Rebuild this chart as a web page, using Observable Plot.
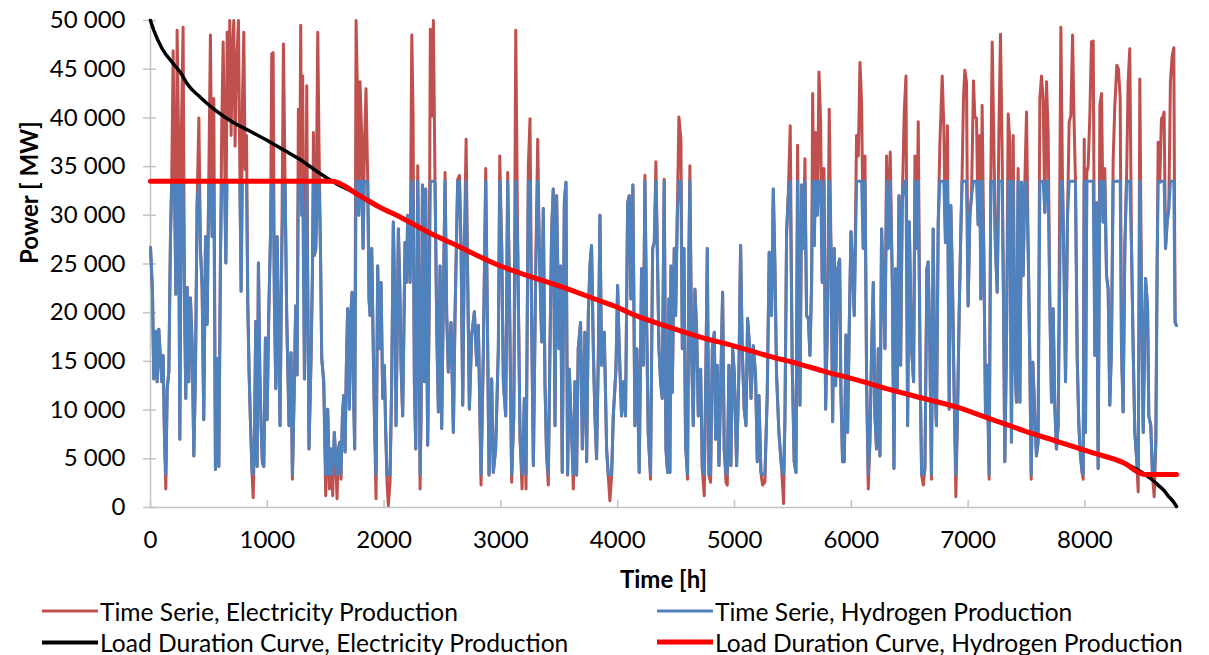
<!DOCTYPE html>
<html>
<head>
<meta charset="utf-8">
<script src="https://cdn.jsdelivr.net/npm/d3@7"></script>
<script src="https://cdn.jsdelivr.net/npm/@observablehq/plot@0.6"></script>
<style>
  body { margin: 0; background: #fff; }
  #wrap { position: relative; width: 1209px; height: 655px; overflow: hidden; font-family: Lato, sans-serif; }
  .item { position: absolute; display: flex; align-items: center; white-space: nowrap; color: #000; font-size: 24.6px; transform: translateY(-50%); }
  .swatch { width: 56px; margin-right: 2px; }
</style>
</head>
<body>
<div id="wrap"></div>
<script>
// Hourly electricity production over the year, [hour, MW], in segments
const seriesA = [[0,26700],[17,22200],[28,13200],[43,18100],[57,12900],[71,18300],[85,15300],[97,12900],[108,15600],[120,7000],[131,1900],[143,12200],[157,13900],[171,27800],[182,33700],[194,46900],[205,34100],[217,21900],[228,49000],[240,38200],[251,7000],[265,39000],[279,49300],[291,21500],[302,11200],[314,22600],[328,12900],[342,21500],[357,16600],[371,5300],[385,13900],[399,31200],[414,40000],[428,26400],[442,22600],[456,9000],[471,27800],[485,18800],[499,33700],[513,48500],[528,27800],[542,42000],[556,3900],[570,15300],[585,4200],[599,25700],[610,39000],[622,47800],[633,38200],[645,25100],[656,48800],[667,40000],[679,50000],[690,38200],[702,46900],[713,50000],[724,37100],[736,45100],[753,50000],[765,34700],[776,22200],[787,41700],[799,48800],[810,34700],[822,38200],[833,20900],[844,13900],[856,8700],[870,3500],[879,1000],[890,7000],[901,19100],[913,4200],[924,25100],[936,13900],[947,8300],[958,4600],[970,4200],[984,17400],[998,9000],[1013,20200],[1027,27800],[1038,46600],[1050,46700],[1061,20900],[1073,12200],[1084,27800],[1096,19100]];
const seriesB = [[1109,8400],[1124,26600],[1138,47600],[1152,33400],[1166,19700],[1186,8400],[1203,15900],[1215,2900],[1229,11200],[1243,20700],[1255,13600],[1266,40900],[1278,33400],[1286,49500],[1295,30000],[1303,44300],[1318,13200],[1329,26600],[1338,43300],[1346,23100],[1357,6000],[1375,15600],[1386,23800],[1395,38500],[1403,25900],[1415,26600],[1432,48800],[1443,36800],[1455,26600],[1466,15300],[1483,12900],[1500,1200],[1517,10100],[1532,1900],[1546,6000],[1560,1200],[1574,7700],[1586,5000],[1597,900],[1609,6000],[1620,6700],[1631,2900],[1643,9400],[1654,11500],[1666,5700],[1677,14600],[1688,20400],[1703,10100],[1714,19700],[1726,22100],[1737,12900],[1748,6000],[1760,50000],[1771,43000],[1783,30000],[1794,43700],[1808,38200],[1820,26600],[1831,36800],[1845,43000],[1860,33400],[1871,21400],[1880,19700],[1894,26600],[1905,18000],[1917,9400],[1931,900],[1945,24800],[1959,16300],[1974,23100],[1988,11200],[2002,14600],[2014,7700],[2025,2600],[2036,200],[2051,2600],[2065,12900],[2079,29300],[2094,19700],[2102,8400],[2114,19700],[2122,28600],[2134,23100],[2145,14600],[2159,9400],[2171,19700],[2179,27200],[2191,23100],[2202,30000]];
const seriesC = [[2222,23100],[2237,48500],[2248,40200],[2259,12900],[2271,6000],[2288,35100],[2299,19700],[2308,1900],[2316,9400],[2328,33100],[2345,12900],[2356,32700],[2373,6400],[2385,19700],[2396,49100],[2408,40200],[2422,50000],[2436,33400],[2451,18000],[2465,9800],[2479,24800],[2493,8100],[2508,22100],[2522,34400],[2536,19700],[2550,13900],[2573,19000],[2593,7700],[2607,19700],[2630,33700],[2645,34100],[2659,26600],[2673,10500],[2687,26600],[2702,37800],[2716,23100],[2730,10100],[2750,17700],[2773,20100],[2793,14600],[2807,18700],[2830,2300],[2850,16300],[2870,34800],[2884,19700],[2898,3300],[2921,13200],[2935,3600],[2955,6000],[2978,16300],[2990,36100],[3007,26600],[3021,12900],[3041,9400],[3058,34400],[3072,23100],[3092,2600],[3110,9400],[3127,49000],[3144,26600],[3164,7000],[3181,1900],[3201,11200],[3215,1900],[3235,35100],[3249,39900],[3264,18000],[3278,4300],[3298,24500],[3315,37800],[3329,26600]];
const seriesD = [[3349,17000],[3363,30700],[3377,12900],[3391,5300],[3406,2300],[3420,16300],[3434,28300],[3448,32700],[3463,8400],[3477,32000],[3497,16300],[3511,24800],[3525,3600],[3543,31300],[3557,33400],[3571,3300],[3585,14200],[3605,7700],[3620,1900],[3634,12900],[3648,3300],[3662,16300],[3682,19000],[3697,6000],[3719,18000],[3734,4700],[3748,19700],[3762,24800],[3776,26900],[3791,16300],[3805,9400],[3819,5000],[3834,15600],[3848,30000],[3862,14600],[3885,18000],[3905,6000],[3919,3300],[3933,700],[3948,3300],[3962,9400],[3985,14200],[3999,22800],[4013,16300],[4033,9400],[4050,12900],[4067,9400],[4085,31300],[4099,32000],[4113,21400],[4130,33100],[4147,8400],[4164,16300],[4184,3600],[4204,24500],[4219,14600],[4233,34100],[4247,19700],[4261,7700],[4281,2900],[4299,26600],[4313,27200],[4327,35500],[4339,26600],[4353,16300],[4367,12900],[4381,11200],[4398,33700],[4413,6000],[4427,3600],[4438,21400]];
const seriesE = [[4447,3600],[4456,24800],[4467,11800],[4484,26600],[4496,19700],[4510,30000],[4524,40100],[4541,37800],[4553,16300],[4567,26600],[4581,6400],[4598,2900],[4610,26600],[4618,35100],[4633,15600],[4647,8400],[4661,22400],[4676,18000],[4690,9400],[4710,14200],[4724,4000],[4741,1200],[4755,14200],[4767,26600],[4781,3300],[4795,2600],[4810,16300],[4827,18000],[4838,7000],[4852,14600],[4867,4300],[4884,13900],[4898,22100],[4912,6000],[4927,2600],[4938,2300],[4952,14600],[4969,4300],[4984,16300],[4998,13900],[5018,4300],[5038,14200],[5052,26900],[5066,16300],[5083,10100],[5098,8400],[5112,19400],[5126,17000],[5141,11200],[5161,16600],[5180,13600],[5195,4700],[5209,11500],[5226,3600],[5240,2300],[5260,2600],[5280,11500],[5297,26200],[5317,19700],[5332,32700],[5346,24800],[5360,13600],[5380,7700],[5403,4000],[5420,400],[5432,9400],[5446,28300],[5460,32000],[5477,39200],[5494,14600],[5511,4700],[5526,3600],[5540,37200]];
const seriesF = [[5560,10500],[5575,33100],[5589,26600],[5603,35800],[5617,19700],[5632,19400],[5646,15600],[5660,23100],[5669,42500],[5683,26900],[5694,38500],[5709,30000],[5723,44700],[5737,39600],[5751,23100],[5766,34800],[5780,10100],[5797,19700],[5811,40900],[5826,26600],[5840,8800],[5854,26600],[5866,12500],[5883,24500],[5900,25500],[5911,11800],[5925,4700],[5940,4700],[5954,17700],[5968,7700],[5983,19000],[5997,28300],[6011,24500],[6025,19700],[6045,38200],[6060,36100],[6074,45700],[6088,41600],[6102,26600],[6117,36100],[6131,12900],[6145,1900],[6159,6700],[6174,16300],[6188,23100],[6202,9400],[6216,6000],[6231,16300],[6245,5300],[6259,28600],[6276,21800],[6288,16300],[6302,36100],[6316,26600],[6333,36500],[6351,23100],[6365,4000],[6379,24500],[6393,12200],[6408,32000],[6422,14600],[6436,31300],[6453,40600],[6468,44300],[6482,8400],[6496,29300],[6516,16300],[6533,12900],[6545,36100],[6559,26600],[6573,39600],[6590,12900],[6602,3300],[6616,2300],[6630,4000],[6647,24500]];
const seriesG = [[6658,25200],[6672,16600],[6686,2900],[6701,28600],[6715,12900],[6729,8400],[6744,29300],[6758,37200],[6778,44300],[6792,39200],[6806,27200],[6823,39200],[6838,10100],[6852,31000],[6866,23100],[6881,11200],[6895,1100],[6909,9400],[6923,19700],[6938,28600],[6949,34400],[6960,42000],[6972,44900],[6986,43700],[7000,20700],[7015,30000],[7029,32000],[7046,43800],[7057,40200],[7072,39900],[7086,29000],[7100,38200],[7109,21400],[7120,41300],[7134,26600],[7149,9400],[7163,14600],[7180,2900],[7194,33400],[7206,47800],[7220,37800],[7234,26600],[7249,22100],[7263,38200],[7277,48600],[7291,36800],[7303,21100],[7314,4700],[7328,16300],[7343,40400],[7357,37500],[7371,6700],[7386,38200],[7400,14900],[7414,10800],[7428,34800],[7443,10800],[7457,33400],[7471,23800],[7485,33100],[7500,40600],[7514,26600],[7528,15300],[7540,2900],[7554,14900],[7571,9400],[7585,5300],[7599,6700],[7614,42000],[7628,44300],[7642,42000],[7657,30300],[7671,43700],[7685,38500],[7699,21400],[7714,10800],[7728,20400],[7742,10500],[7756,6000]];
const seriesH = [[7771,8400],[7794,49300],[7808,33400],[7822,23800],[7834,12900],[7851,30000],[7865,39600],[7879,40200],[7894,48500],[7908,39200],[7919,33400],[7934,15300],[7948,8400],[7962,5300],[7976,3600],[7985,2900],[7994,37800],[8005,7700],[8016,34400],[8028,35100],[8042,40200],[8056,47800],[8071,47900],[8085,15600],[8099,31300],[8113,4000],[8128,41300],[8142,42500],[8156,29300],[8170,34800],[8185,23800],[8199,22400],[8213,10500],[8227,16300],[8242,35800],[8256,41300],[8273,45400],[8287,45000],[8302,42000],[8313,16300],[8327,9800],[8342,26900],[8356,33400],[8370,43700],[8384,47100],[8399,26600],[8413,16300],[8427,7700],[8441,5300],[8456,1600],[8470,44000],[8484,22400],[8499,7700],[8519,23500],[8536,20700],[8547,9400],[8564,8400],[8578,3300],[8593,1100],[8607,6700],[8618,24500],[8627,37500],[8641,33400],[8655,39900],[8670,40200],[8678,40600],[8690,26600],[8704,29300],[8718,30700],[8732,43700],[8747,46400],[8761,47200],[8772,19000],[8783,18700]];

// Electricity load duration curve (sorted production)
const ldcHours = [0, 28, 100, 200, 265, 314, 428, 554, 713, 841, 998, 1141, 1284, 1426, 1555, 1780, 1951, 2140, 2422, 2568, 2995, 3280, 3509, 3851, 3988, 4136, 4421, 4707, 4992, 5277, 5563, 5762, 6047, 6333, 6618, 6903, 7189, 7474, 7759, 8044, 8330, 8512, 8570, 8627, 8680, 8712, 8750, 8784];
const ldcElec = [50000, 49000, 47100, 45500, 44500, 43500, 42100, 40800, 39500, 38700, 37700, 36700, 35700, 34500, 33500, 32100, 30900, 29800, 28000, 27200, 24800, 23600, 22700, 21200, 20600, 19800, 18600, 17500, 16600, 15600, 14700, 14000, 13100, 12100, 11200, 10300, 9100, 7900, 6800, 5700, 4600, 3400, 2900, 2300, 1700, 1200, 700, 100];

// Electrolyser limits: hydrogen production is the electricity bounded by these
const hydrogenMax = 33500;
const hydrogenMin = 3400;

const xTicks = [0, 1000, 2000, 3000, 4000, 5000, 6000, 7000, 8000];
const yTicks = [0, 5000, 10000, 15000, 20000, 25000, 30000, 35000, 40000, 45000, 50000];

const bound = v => Math.max(hydrogenMin, Math.min(hydrogenMax, v));
const elec = [...seriesA, ...seriesB, ...seriesC, ...seriesD, ...seriesE, ...seriesF, ...seriesG, ...seriesH]
  .map(([h, v]) => ({h, v}));
const hydro = elec.map(d => ({h: d.h, v: bound(d.v)}));
const ldcE = ldcHours.map((h, i) => ({h, v: ldcElec[i]}));
const ldcH = ldcE.map(d => ({h: d.h, v: bound(d.v)}));

const fmtY = d => d3.format(",")(d).replace(/,/g, " ");
const fmtX = d => String(d);
const axisGray = "#c4c4c4";
const frameW = 1209 - 150 - 33, frameH = 595 - 20 - 88;

const chart = Plot.plot({
  width: 1209,
  height: 595,
  marginLeft: 150,
  marginRight: 33,
  marginTop: 20,
  marginBottom: 88,
  style: {fontFamily: "Lato, sans-serif", fontSize: "24px", color: "#000", background: "#fff"},
  x: {domain: [0, 8784]},
  y: {domain: [0, 50000]},
  marks: [
    Plot.axisY(yTicks, {tickFormat: fmtY, tickSize: 0, tickPadding: 25, label: null, fill: "#000"}),
    Plot.axisX(xTicks, {tickFormat: fmtX, tickSize: 0, tickPadding: 23, label: null, fill: "#000"}),
    Plot.ruleY(yTicks, {stroke: axisGray, strokeWidth: 1.5, insetLeft: -7, insetRight: frameW - 6}),
    Plot.ruleX(xTicks, {stroke: axisGray, strokeWidth: 1.5, insetTop: frameH - 7}),
    Plot.ruleX([0], {stroke: axisGray, strokeWidth: 1.5}),
    Plot.ruleY([0], {stroke: axisGray, strokeWidth: 1.5}),
    Plot.line(elec, {x: "h", y: "v", stroke: "#C0504D", strokeWidth: 3}),
    Plot.line(hydro, {x: "h", y: "v", stroke: "#4F81BD", strokeWidth: 3}),
    Plot.line(ldcE, {x: "h", y: "v", stroke: "#000", strokeWidth: 3.5, curve: "monotone-x"}),
    Plot.line(ldcH, {x: "h", y: "v", stroke: "#FF0000", strokeWidth: 5, curve: "monotone-x"}),
    Plot.text(["Power [ MW]"], {frameAnchor: "left", dx: -120, rotate: -90, fontWeight: "bold", fontSize: 24}),
    Plot.text(["Time [h]"], {frameAnchor: "bottom", dy: 80, fontWeight: "bold", fontSize: 24})
  ]
});

const wrap = document.getElementById("wrap");
chart.style.position = "absolute";
chart.style.left = "0";
chart.style.top = "0";
wrap.appendChild(chart);

const legendItems = [
  {label: "Time Serie, Electricity Production", color: "#C0504D", w: 2.5, left: 42, top: 611},
  {label: "Time Serie, Hydrogen Production", color: "#4F81BD", w: 2.5, left: 657, top: 611},
  {label: "Load Duration Curve, Electricity Production", color: "#000", w: 4, left: 42, top: 642},
  {label: "Load Duration Curve, Hydrogen Production", color: "#FF0000", w: 5.5, left: 657, top: 642}
];
for (const it of legendItems) {
  const div = document.createElement("div");
  div.className = "item";
  div.style.left = it.left + "px";
  div.style.top = it.top + "px";
  const sw = document.createElement("div");
  sw.className = "swatch";
  sw.style.height = it.w + "px";
  sw.style.background = it.color;
  const tx = document.createElement("span");
  tx.textContent = it.label;
  div.appendChild(sw);
  div.appendChild(tx);
  wrap.appendChild(div);
}
</script>
</body>
</html>
